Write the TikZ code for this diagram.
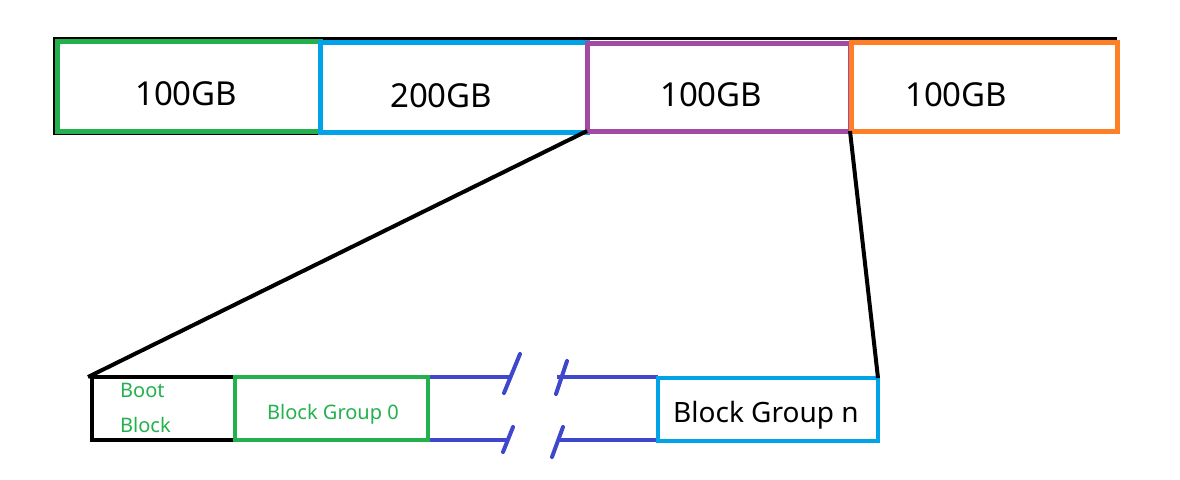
\documentclass[tikz,border=0pt]{standalone}
\usepackage{fontspec}
\setmainfont{Noto Sans}
\definecolor{pgreen}{HTML}{22B14C}
\definecolor{pblue}{HTML}{00A2E8}
\definecolor{ppurple}{HTML}{A349A4}
\definecolor{porange}{HTML}{FF7F27}
\definecolor{pindigo}{HTML}{3F48CC}
\tikzset{
  part/.style={draw, line width=5pt, inner sep=0pt, outer sep=0pt},
  blk/.style={draw, line width=4pt, inner sep=0pt, outer sep=0pt},
  big/.style={font=\fontsize{33}{36}\selectfont, anchor=base west, inner sep=0pt},
  mid/.style={font=\fontsize{28}{30}\selectfont, anchor=base west, inner sep=0pt},
  small/.style={font=\fontsize{20}{24}\selectfont, anchor=base west, inner sep=0pt, text=pgreen},
  link/.style={draw=black, line width=4pt},
  brk/.style={draw=pindigo, line width=4pt, line cap=round}
}
\begin{document}
\begin{tikzpicture}[x=1pt,y=-1pt]
\useasboundingbox (0,0) rectangle (1180,479);
% black outline of the disk
\draw[line width=3.5pt] (1117,38.5) -- (55,38.5) -- (55,133) -- (587,133);
% partitions
\node[part, draw=pgreen, minimum width=263pt, minimum height=90pt, anchor=north west] (p1) at (57,41) {};
\node[part, draw=pblue, minimum width=267pt, minimum height=90pt, anchor=north west] (p2) at (320,42) {};
\node[part, draw=ppurple, minimum width=263pt, minimum height=88pt, anchor=north west] (p3) at (587,43) {};
\draw[line width=2pt] (p3.north east) -- (p3.south east);
\node[part, draw=porange, minimum width=266pt, minimum height=89pt, anchor=north west] (p4) at (851,42) {};
\node[big] (t1) at (135,105) {100GB};
\node[big] (t2) at (390,107) {200GB};
\node[big] (t3) at (660,106) {100GB};
\node[big] (t4) at (905,106) {100GB};
% bottom layout
\node[blk, draw=black, minimum width=143pt, minimum height=63pt, anchor=north west] (boot) at (92,377) {};
\coordinate (bootc) at (88,377);
% indigo gap
\coordinate (g1) at (428,377);
\coordinate (g2) at (428,440);
\draw[brk, line cap=butt] (511,377) -- (g1) -- (g2) -- (509,440);
\draw[brk, line cap=butt] (557,377) -- (658,377);
\draw[brk, line cap=butt] (557,440) -- (658,440);
\draw[brk] (520,354) -- (504,393);
\draw[brk] (513,427) -- (503,452);
\draw[brk] (567,361) -- (556,394);
\draw[brk] (563,427) -- (552,457);
\node[blk, draw=pgreen, minimum width=193pt, minimum height=63pt, anchor=north west] (bg0) at (235,377) {};
\node[blk, draw=pblue, minimum width=220pt, minimum height=63pt, anchor=north west] (bgn) at (658,378) {};
\node[small] (boott) at (120,397) {Boot};
\node[small] (blockt) at (120,432) {Block};
\node[small] (bg0t) at (267,419) {Block Group 0};
\node[mid] (bgnt) at (673,422) {Block Group n};
% zoom lines
\draw[link] (p3.south west) -- (bootc);
\draw[link] (p3.south east) -- (bgn.north east);
\end{tikzpicture}
\end{document}
